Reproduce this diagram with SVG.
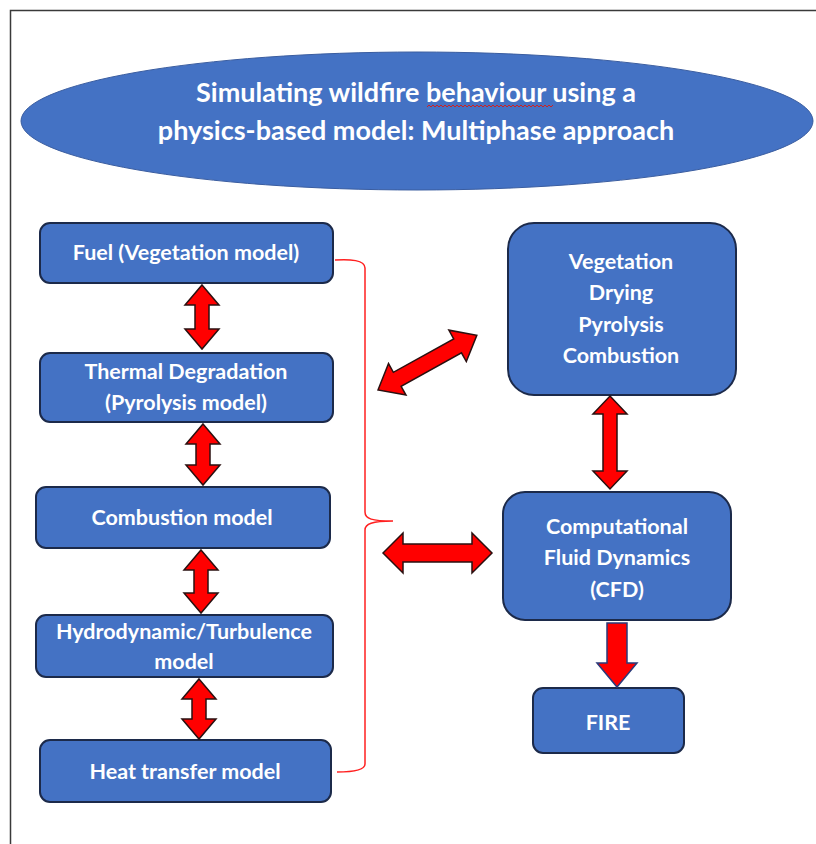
<svg xmlns="http://www.w3.org/2000/svg" width="816" height="844" viewBox="0 0 816 844">
<style>
.box{fill:#4472C4;stroke:#1c2a4a;stroke-width:2}
.t{fill:#ffffff;font-family:Lato,"Liberation Sans",sans-serif;font-weight:bold;font-size:21.5px;text-anchor:middle}
.title{font-size:27px}
.arr{fill:#ff0000;stroke:#2a1010;stroke-width:1.5;stroke-linejoin:miter}
.brace{fill:none;stroke:#ff2020;stroke-width:1.5}
</style>
<rect x="0" y="0" width="816" height="844" fill="#ffffff"/>
<path d="M10.5,844 V10.5 H816" fill="none" stroke="#3a3a3a" stroke-width="1.5"/>

<g id="title">
<ellipse cx="417" cy="121" rx="396" ry="69" fill="#4472C4" stroke="#3a5da0" stroke-width="1"/>
<text class="t title" x="416" y="102">Simulating wildfire behaviour using a</text>
<text class="t title" x="416" y="140">physics-based model: Multiphase approach</text>
<path d="M427,107 l2,-2 l2,2 l2,-2 l2,2 l2,-2 l2,2 l2,-2 l2,2 l2,-2 l2,2 l2,-2 l2,2 l2,-2 l2,2 l2,-2 l2,2 l2,-2 l2,2 l2,-2 l2,2 l2,-2 l2,2 l2,-2 l2,2 l2,-2 l2,2 l2,-2 l2,2 l2,-2 l2,2 l2,-2 l2,2 l2,-2 l2,2 l2,-2 l2,2 l2,-2 l2,2 l2,-2 l2,2 l2,-2 l2,2 l2,-2 l2,2 l2,-2 l2,2 l2,-2 l2,2 l2,-2 l2,2 l2,-2 l2,2 l2,-2 l2,2 l2,-2 l2,2 l2,-2 l2,2 l2,-2 l2,2 l2,-2 l2,2 l2,-2" fill="none" stroke="#d02020" stroke-width="1"/>
</g>

<g id="fuel">
<rect class="box" x="40" y="223" width="293" height="60" rx="10"/>
<text class="t" x="186" y="260">Fuel (Vegetation model)</text>
</g>
<g id="thermal">
<rect class="box" x="40" y="353" width="293" height="69" rx="10"/>
<text class="t" x="186" y="379">Thermal Degradation</text>
<text class="t" x="186" y="410">(Pyrolysis model)</text>
</g>
<g id="combustion">
<rect class="box" x="36" y="487" width="294" height="61" rx="10"/>
<text class="t" x="182" y="525">Combustion model</text>
</g>
<g id="hydro">
<rect class="box" x="36" y="615" width="297" height="62" rx="10"/>
<text class="t" x="184" y="639">Hydrodynamic/Turbulence</text>
<text class="t" x="184" y="669">model</text>
</g>
<g id="heat">
<rect class="box" x="40" y="740" width="291" height="62" rx="10"/>
<text class="t" x="185" y="779">Heat transfer model</text>
</g>

<g id="vegetation">
<rect class="box" x="508" y="223" width="228" height="172" rx="26"/>
<text class="t" x="621" y="269">Vegetation</text>
<text class="t" x="621" y="300">Drying</text>
<text class="t" x="621" y="332">Pyrolysis</text>
<text class="t" x="621" y="363">Combustion</text>
</g>
<g id="cfd">
<rect class="box" x="503" y="492" width="228" height="128" rx="22"/>
<text class="t" x="617" y="534">Computational</text>
<text class="t" x="617" y="565">Fluid Dynamics</text>
<text class="t" x="617" y="597">(CFD)</text>
</g>
<g id="fire">
<rect class="box" x="533" y="688" width="151" height="65" rx="10"/>
<text class="t" x="608" y="730">FIRE</text>
</g>

<g id="connectors">
<path class="brace" d="M335,260 C350,259 365,260 365,268 V512 C365,519 372,521 393,521 C372,521 365,524 365,530 V764 C365,770 352,772 337,772"/>
<polygon class="arr" points="202,285 219,305 209,305 209,329 219,329 202,349 185,329 195,329 195,305 185,305"/>
<polygon class="arr" points="203,424 220,444 210,444 210,465 220,465 203,485 186,465 196,465 196,444 186,444"/>
<polygon class="arr" points="201,550 218,570 208,570 208,593 218,593 201,613 184,593 194,593 194,570 184,570"/>
<polygon class="arr" points="199,679 216,699 206,699 206,719 216,719 199,739 182,719 192,719 192,699 182,699"/>
<polygon class="arr" points="610,396 627,414 617,414 617,471 627,471 610,489 593,471 603,471 603,414 593,414"/>
<polygon class="arr" points="383,553 403,533 403,544 472,544 472,533 492,553 472,573 472,562 403,562 403,573"/>
<polygon class="arr" transform="translate(378,390) rotate(-29)" points="0,0 22,-18 22,-8 91,-8 91,-18 113,0 91,18 91,8 22,8 22,18"/>
<polygon class="arr" style="stroke:#2a3a7a" points="607,623 627,623 627,663 637,663 617,687 597,663 607,663"/>
</g>
</svg>
